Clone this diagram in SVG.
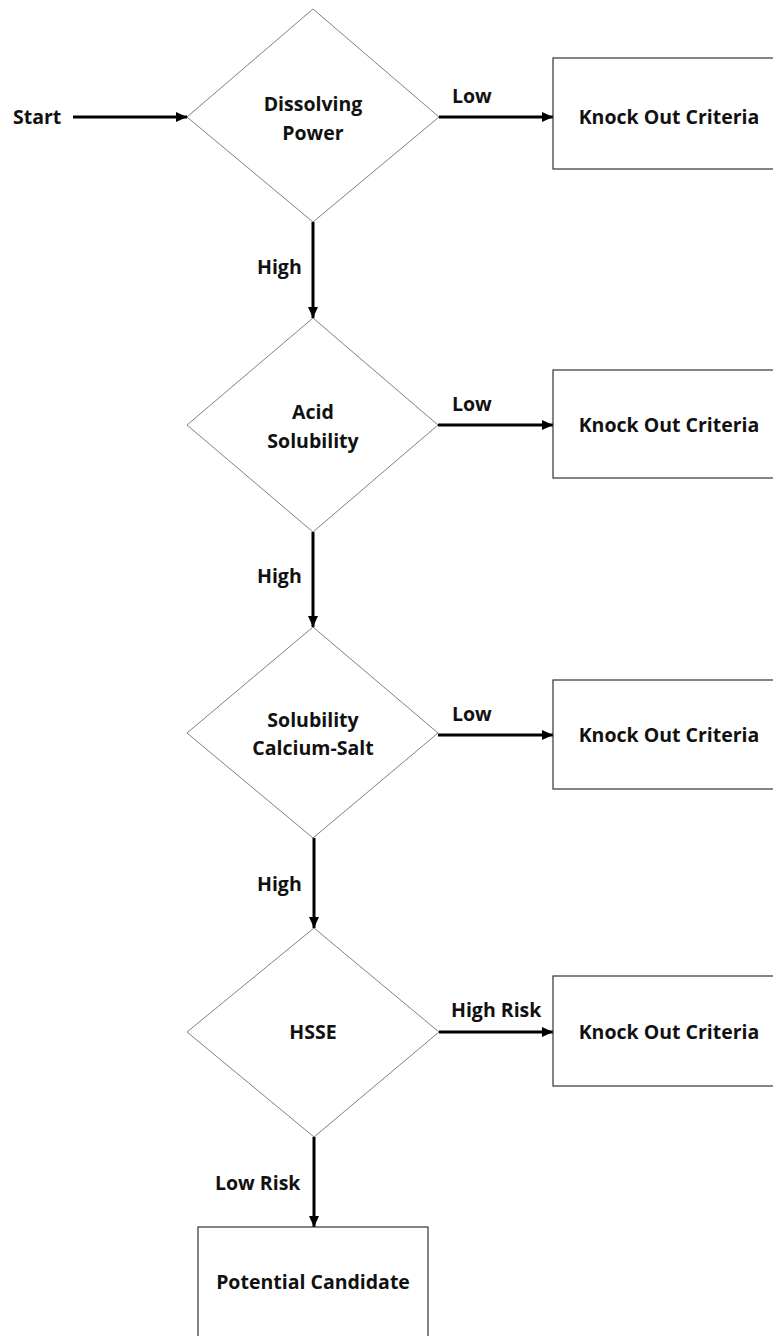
<svg xmlns="http://www.w3.org/2000/svg" width="773" height="1336" viewBox="0 0 773 1336">
<defs>
<style>
text{font-family:"Open Sans","Liberation Sans",sans-serif;font-weight:bold;font-size:19.5px;fill:#111}
.c{text-anchor:middle}
.dia{fill:#fff;stroke:#808080;stroke-width:1}
.box{fill:#fff;stroke:#333;stroke-width:1.2}
.arr{fill:none;stroke:#000;stroke-width:3;marker-end:url(#ah)}
</style>
<marker id="ah" markerUnits="userSpaceOnUse" markerWidth="12" markerHeight="10" refX="11" refY="5" orient="auto">
<path d="M0,0 L11,5 L0,10 Z" fill="#000"/>
</marker>
</defs>
<rect width="773" height="1336" fill="#fff"/>
<g id="connectors">
<path class="arr" d="M73,117 H187"/>
<path class="arr" d="M439,117 H553"/>
<path class="arr" d="M313,222 V318"/>
<path class="arr" d="M438,425 H553"/>
<path class="arr" d="M313,532 V627"/>
<path class="arr" d="M438,735 H553"/>
<path class="arr" d="M314,838 V928"/>
<path class="arr" d="M439,1032 H553"/>
<path class="arr" d="M314,1137 V1227"/>
<text x="13" y="124">Start</text>
<text x="452" y="103">Low</text>
<text x="257" y="274">High</text>
<text x="452" y="411">Low</text>
<text x="257" y="583">High</text>
<text x="452" y="721">Low</text>
<text x="257" y="891">High</text>
<text x="451" y="1017">High Risk</text>
<text x="215" y="1190">Low Risk</text>
</g>
<g id="d1">
<polygon class="dia" points="313,9 439,117 313,222 187,117"/>
<text class="c" x="313" y="111">Dissolving</text>
<text class="c" x="313" y="140">Power</text>
</g>
<g id="d2">
<polygon class="dia" points="313,318 438,425 313,532 187,425"/>
<text class="c" x="313" y="419">Acid</text>
<text class="c" x="313" y="448">Solubility</text>
</g>
<g id="d3">
<polygon class="dia" points="313,627 438,733 313,838 187,733"/>
<text class="c" x="313" y="727">Solubility</text>
<text class="c" x="313" y="755">Calcium-Salt</text>
</g>
<g id="d4">
<polygon class="dia" points="314,928 439,1032 314,1137 187,1032"/>
<text class="c" x="313" y="1039">HSSE</text>
</g>
<g id="k1">
<rect class="box" x="553" y="58" width="230" height="111"/>
<text class="c" x="669" y="124">Knock Out Criteria</text>
</g>
<g id="k2">
<rect class="box" x="553" y="370" width="230" height="108"/>
<text class="c" x="669" y="432">Knock Out Criteria</text>
</g>
<g id="k3">
<rect class="box" x="553" y="680" width="230" height="109"/>
<text class="c" x="669" y="742">Knock Out Criteria</text>
</g>
<g id="k4">
<rect class="box" x="553" y="976" width="230" height="110"/>
<text class="c" x="669" y="1039">Knock Out Criteria</text>
</g>
<g id="pc">
<rect class="box" x="198" y="1227" width="230" height="120"/>
<text class="c" x="313" y="1289">Potential Candidate</text>
</g>
</svg>
